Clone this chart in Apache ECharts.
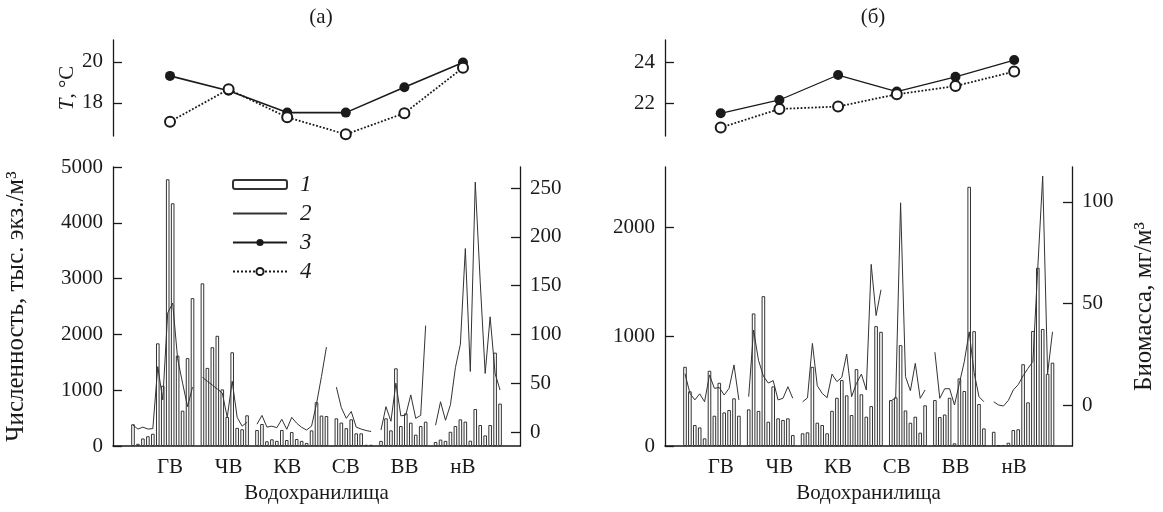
<!DOCTYPE html>
<html>
<head>
<meta charset="utf-8">
<script src="https://cdn.jsdelivr.net/npm/echarts@6/dist/echarts.min.js"></script>
<style>
html, body { margin: 0; padding: 0; background: #fff; }
#chart { width: 1163px; height: 512px; }
</style>
</head>
<body>
<div id="chart"></div>
<script>
// reservoirs (group labels)
var groups = ['ГВ', 'ЧВ', 'КВ', 'СВ', 'ВВ', 'нВ'];

// water temperature, deg C: 3 = filled points, 4 = open points
var tempA3 = [19.32, 18.6, 17.53, 17.53, 18.77, 19.97];
var tempA4 = [17.09, 18.67, 17.3, 16.47, 17.5, 19.72];
var tempB3 = [21.51, 22.16, 23.38, 22.57, 23.29, 24.11];
var tempB4 = [20.81, 21.72, 21.84, 22.44, 22.84, 23.55];

// stations in a row, null = empty slot between reservoirs
// (а) abundance, thous. ind./m3 (bars, 1)
var numA = [390, 40, 135, 175, 220, 1840, 1080, 4780, 4350, 1620, 633, 1575, 2650, null,
  2915, 1400, 1770, 1975, 1015, 520, 1680, 325, 300, 550, null,
  287, 394, 85, 120, 92, 287, 107, 250, 125, 92, 55, 280, 785, 545, 537, null,
  496, 420, 320, 478, 227, 227, 22, 22, null,
  92, 496, 280, 1392, 358, 585, 418, 203, 358, 436, null,
  72, 115, 92, 255, 358, 478, 436, 95, 663, 376, 190, 376, 1673, 760];
// (а) biomass, mg/m3 (line, 2)
var bioA = [7, 3, 5, 3, 3.5, 67, 33, 122, 132, 75, 50, 26, 46, null,
  56, 52, 48, 44, 40, 15, 52, 15, 6, 10, null,
  8, 17, 5, 6, 4.4, 13, 2.8, 15, 9, 4.8, 2, 6, 29, 57, 87, null,
  46, 25, 14, 21, 5, 3, 1.5, 0.5, null,
  2, 26, 11, 50, 16.5, 17.4, 38, 14, 17, 109, null,
  7, 31, 12, 28, 66, 90, 188, 62, 256, 154, 60, 118, 60, 43];
// (б) abundance
var numB = [724, 500, 192, 170, 70, 688, 277, 578, 307, 329, 436, 277, null,
  335, 1212, 321, 1370, 222, 545, 253, 238, 253, 100, null,
  116, 125, 724, 213, 192, 116, 322, 441, 603, 463, 283, 703, 473, 268, 365, 1096, 1044, null,
  420, 445, 922, 325, 213, 268, 122, 372, null,
  420, 265, 288, 441, 25, 618, 503, 2370, 1050, 384, 161, null,
  130, 5, 9, 30, 146, 153, 748, 399, 1052, 1630, 1070, 660, 762];
// (б) biomass
var bioB = [15.4, 5.8, 2.5, 5.5, 1.6, 14.8, 8.2, 8.6, 4.9, 8.2, 19.7, 2.5, null,
  4.1, 36.9, 22, 14.2, 10.8, 12, 2.5, 3.3, 9, 3.3, null,
  1.6, 3.5, 30.3, 9.5, 5.7, 3.6, 15.2, 11.5, 13.6, 25.1, 4.1, 10.7, 15.2, 7.4, 69.2, 44, 56.7, null,
  2, 3.5, 99.5, 14, 7, 20.5, 3.3, 7.4, null,
  26, 3.3, 8, 8, 0, 10.7, 21.3, 36, 16, 4.1, 1.6, null,
  1.6, 0, -0.5, 2.3, 7.4, 10, 14.4, 18, 21.4, 67.7, 112.6, 15.4, 36];

var tickA = { t: [18, 20], n: [0, 1000, 2000, 3000, 4000, 5000], b: [0, 50, 100, 150, 200, 250] };
var tickB = { t: [22, 24], n: [0, 1000, 2000], b: [0, 50, 100] };

var FONT = 'Liberation Serif';
var INK = '#1a1a1a';

function linePts(arr) {
  return arr.map(function (v, i) { return [i, v == null ? '-' : v]; });
}
function barPts(arr) {
  return arr.map(function (v, i) { return [i, v]; }).filter(function (d) { return d[1] != null; });
}
function idxPts(arr) {
  return arr.map(function (v, i) { return [i, v]; });
}

function yAx(grid, pos, min, max, ticks, extra) {
  var o = {
    type: 'value', gridIndex: grid, position: pos, min: min, max: max,
    axisLine: { show: true, onZero: false, lineStyle: { color: INK, width: 1.3 } },
    axisTick: { show: true, inside: true, length: 9, customValues: ticks, lineStyle: { color: INK, width: 1.3 } },
    axisLabel: {
      show: true, customValues: ticks, fontFamily: FONT, fontSize: 21, color: INK, margin: 10,
      formatter: function (v) { return String(v); }
    },
    splitLine: { show: false },
    nameLocation: 'middle',
    nameTextStyle: { fontFamily: FONT, fontSize: 25, color: INK }
  };
  for (var k in extra) o[k] = extra[k];
  return o;
}
function slotX(grid, min, max) {
  return {
    type: 'value', gridIndex: grid, position: 'bottom', min: min, max: max,
    axisLine: { show: true, onZero: false, lineStyle: { color: INK, width: 1.5 } },
    axisTick: { show: false }, axisLabel: { show: false }, splitLine: { show: false }
  };
}
function groupX(grid, min, max) {
  return {
    type: 'value', gridIndex: grid, position: 'bottom', min: min, max: max,
    axisLine: { show: false, onZero: false }, axisTick: { show: false }, splitLine: { show: false },
    axisLabel: {
      customValues: [0, 1, 2, 3, 4, 5],
      formatter: function (v) { return groups[Math.round(v)]; },
      fontFamily: FONT, fontSize: 21, color: INK, margin: 11
    },
    name: 'Водохранилища', nameLocation: 'middle', nameGap: 33,
    nameTextStyle: { fontFamily: FONT, fontSize: 21, color: INK }
  };
}
function hiddenX(grid, min, max) {
  return { type: 'value', gridIndex: grid, min: min, max: max, show: false };
}

var barStyle = { color: '#fff', borderColor: '#333', borderWidth: 1 };
var thinLine = { color: '#333', width: 1 };

var option = {
  animation: false,
  backgroundColor: '#fff',
  title: [
    { text: '(а)', left: 316, top: 2, textAlign: 'center', textStyle: { fontFamily: FONT, fontSize: 21, fontWeight: 'normal', color: INK } },
    { text: '(б)', left: 868, top: 2, textAlign: 'center', textStyle: { fontFamily: FONT, fontSize: 21, fontWeight: 'normal', color: INK } }
  ],
  legend: {
    left: 227, top: 168, orient: 'vertical',
    itemWidth: 54, itemHeight: 9, itemGap: 6,
    data: ['1', { name: '2', itemStyle: { opacity: 0 } }, '3', '4'],
    textStyle: { fontFamily: FONT, fontSize: 23, fontStyle: 'italic', color: INK, padding: [0, 0, 0, 8] }
  },
  grid: [
    { left: 113, top: 40, width: 407, height: 96 },
    { left: 113, top: 167, width: 407, height: 279 },
    { left: 665, top: 40, width: 407, height: 96 },
    { left: 665, top: 167, width: 407, height: 279 }
  ],
  xAxis: [
    hiddenX(0, -0.973, 5.973),
    slotX(1, -4.03, 78.02),
    groupX(1, -0.973, 5.973),
    hiddenX(2, -0.949, 5.985),
    slotX(3, -4.08, 78.98),
    groupX(3, -0.949, 5.985)
  ],
  yAxis: [
    yAx(0, 'left', 16.39, 21.07, tickA.t, {
      name: '{i|T}, °C', nameGap: 29,
      nameTextStyle: { fontFamily: FONT, fontSize: 21, color: INK, rich: { i: { fontFamily: FONT, fontSize: 21, fontStyle: 'italic', color: INK } } }
    }),
    yAx(1, 'left', 0, 5000, tickA.n, { name: 'Численность, тыс. экз./м³', nameGap: 84 }),
    yAx(1, 'right', -14.34, 271.5, tickA.b, {}),
    yAx(2, 'left', 20.40, 25.09, tickB.t, {}),
    yAx(3, 'left', 0, 2551, tickB.n, {}),
    yAx(3, 'right', -20.17, 117.1, tickB.b, { name: 'Биомасса, мг/м³', nameGap: 60 })
  ],
  series: [
    { name: '1', type: 'bar', xAxisIndex: 1, yAxisIndex: 1, barWidth: 3.6, itemStyle: barStyle, data: barPts(numA) },
    { name: '2', type: 'line', xAxisIndex: 1, yAxisIndex: 2, symbol: 'none', lineStyle: thinLine, itemStyle: { color: '#333' }, connectNulls: false, data: linePts(bioA) },
    { name: '3', type: 'line', xAxisIndex: 0, yAxisIndex: 0, symbol: 'circle', symbolSize: 10, itemStyle: { color: INK }, lineStyle: { color: INK, width: 1.6 }, data: idxPts(tempA3) },
    { name: '4', type: 'line', xAxisIndex: 0, yAxisIndex: 0, symbol: 'emptyCircle', symbolSize: 10, itemStyle: { color: INK, borderWidth: 1.2 }, lineStyle: { color: INK, width: 1.8, type: 'dotted' }, data: idxPts(tempA4) },
    { name: '1', type: 'bar', xAxisIndex: 4, yAxisIndex: 4, barWidth: 3.6, itemStyle: barStyle, data: barPts(numB) },
    { name: '2', type: 'line', xAxisIndex: 4, yAxisIndex: 5, symbol: 'none', lineStyle: thinLine, itemStyle: { color: '#333' }, connectNulls: false, data: linePts(bioB) },
    { name: '3', type: 'line', xAxisIndex: 3, yAxisIndex: 3, symbol: 'circle', symbolSize: 10, itemStyle: { color: INK }, lineStyle: { color: INK, width: 1.3 }, data: idxPts(tempB3) },
    { name: '4', type: 'line', xAxisIndex: 3, yAxisIndex: 3, symbol: 'emptyCircle', symbolSize: 10, itemStyle: { color: INK, borderWidth: 1.2 }, lineStyle: { color: INK, width: 1.8, type: 'dotted' }, data: idxPts(tempB4) }
  ]
};

var chart = echarts.init(document.getElementById('chart'), null, { renderer: 'canvas' });
chart.setOption(option);
</script>
</body>
</html>
